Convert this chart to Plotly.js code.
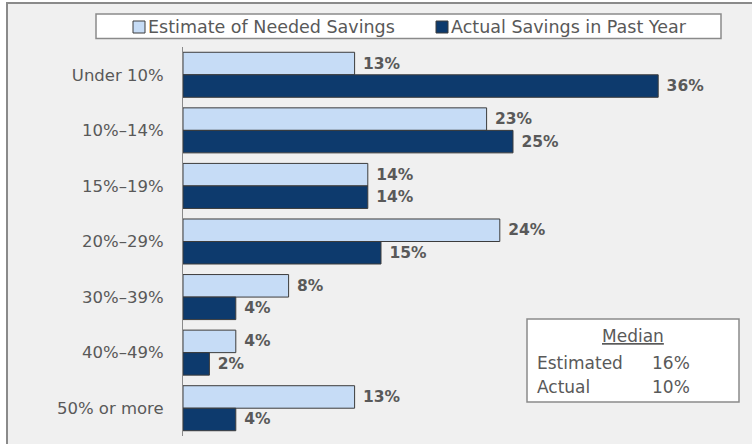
<!DOCTYPE html>
<html>
<head>
<meta charset="utf-8">
<script src="https://cdn.plot.ly/plotly-3.0.1.min.js"></script>
<style>html,body{margin:0;padding:0;background:#fff;}#chart{width:752px;height:444px;}</style>
</head>
<body>
<div id="chart"></div>
<script>
var categories = ["Under 10%", "10%\u201314%", "15%\u201319%", "20%\u201329%", "30%\u201339%", "40%\u201349%", "50% or more"];
var estimateValues = [13, 23, 14, 24, 8, 4, 13];
var actualValues = [36, 25, 14, 15, 4, 2, 4];
var seriesNames = ["Estimate of Needed Savings", "Actual Savings in Past Year"];
var medianLabels = ["Estimated", "Actual"];
var medianValues = ["16%", "10%"];

var W = 752, H = 444, ML = 183, MR = 41, MT = 47, MB = 8;
var PW = W - ML - MR, PH = H - MT - MB;
function px(x) { return (x - ML) / PW; }
function py(y) { return (H - MB - y) / PH; }

var colEst = "#c6dcf6", colAct = "#0d3a6d";
var gray = "#595959";
var FONT = "DejaVu Sans";

var traces = [
  {type: "bar", orientation: "h", name: seriesNames[0], y: categories, x: estimateValues,
   marker: {color: colEst, line: {color: "#3c3c3c", width: 1}},
   text: estimateValues.map(function(v){return "\u00a0" + v + "%";}), textposition: "outside",
   textfont: {family: FONT, size: 15.5, color: gray, weight: "bold"}, cliponaxis: false, hoverinfo: "skip"},
  {type: "bar", orientation: "h", name: seriesNames[1], y: categories, x: actualValues,
   marker: {color: colAct, line: {color: "#3c3c3c", width: 1}},
   text: actualValues.map(function(v){return "\u00a0" + v + "%";}), textposition: "outside",
   textfont: {family: FONT, size: 15.5, color: gray, weight: "bold"}, cliponaxis: false, hoverinfo: "skip"}
];

var shapes = [
  {type: "rect", xref: "paper", yref: "paper", x0: px(7), x1: px(790), y0: py(3), y1: py(480),
   fillcolor: "#f0f0f0", line: {color: "#8a8a8a", width: 2}, layer: "below"},
  {type: "rect", xref: "paper", yref: "paper", x0: px(96), x1: px(721), y0: py(14), y1: py(38.5),
   fillcolor: "#ffffff", line: {color: "#8a8a8a", width: 1.5}, layer: "below"},
  {type: "rect", xref: "paper", yref: "paper", x0: px(133), x1: px(145), y0: py(21), y1: py(33),
   fillcolor: colEst, line: {color: "#3c3c3c", width: 1}, layer: "above"},
  {type: "rect", xref: "paper", yref: "paper", x0: px(436), x1: px(448), y0: py(21), y1: py(33),
   fillcolor: colAct, line: {color: "#3c3c3c", width: 1}, layer: "above"},
  {type: "rect", xref: "paper", yref: "paper", x0: px(527), x1: px(739), y0: py(319), y1: py(402),
   fillcolor: "#ffffff", line: {color: "#8a8a8a", width: 1.5}, layer: "above"}
];

var legFont = {family: FONT, size: 17.5, color: gray};
var txtFont = {family: FONT, size: 17, color: gray};
var annotations = [
  {xref: "paper", yref: "paper", x: px(146), y: py(27), xanchor: "left", yanchor: "middle",
   text: seriesNames[0], showarrow: false, font: legFont},
  {xref: "paper", yref: "paper", x: px(449), y: py(27), xanchor: "left", yanchor: "middle",
   text: seriesNames[1], showarrow: false, font: legFont},
  {xref: "paper", yref: "paper", x: px(633), y: py(336), xanchor: "center", yanchor: "middle",
   text: "<u>Median</u>", showarrow: false, font: txtFont}
];
for (var i = 0; i < medianLabels.length; i++) {
  var yy = 363 + i * 23.5;
  annotations.push({xref: "paper", yref: "paper", x: px(535), y: py(yy), xanchor: "left", yanchor: "middle",
    text: medianLabels[i], showarrow: false, font: txtFont});
  annotations.push({xref: "paper", yref: "paper", x: px(650), y: py(yy), xanchor: "left", yanchor: "middle",
    text: medianValues[i], showarrow: false, font: txtFont});
}

var layout = {
  width: W, height: H,
  margin: {l: ML, r: MR, t: MT, b: MB, pad: 0},
  paper_bgcolor: "#ffffff", plot_bgcolor: "rgba(0,0,0,0)",
  barmode: "group", bargap: 0.19, bargroupgap: 0,
  showlegend: false,
  xaxis: {range: [0, 40], visible: false, showgrid: false, zeroline: false, fixedrange: true},
  yaxis: {autorange: "reversed", type: "category", showline: true, linecolor: "#8a8a8a", linewidth: 1,
    ticks: "", showgrid: false, zeroline: false, ticklabelstandoff: 15,
    tickfont: {family: FONT, size: 16.5, color: gray}, fixedrange: true},
  shapes: shapes,
  annotations: annotations,
  hovermode: false
};

Plotly.newPlot("chart", traces, layout, {staticPlot: true, displayModeBar: false});
</script>
</body>
</html>
